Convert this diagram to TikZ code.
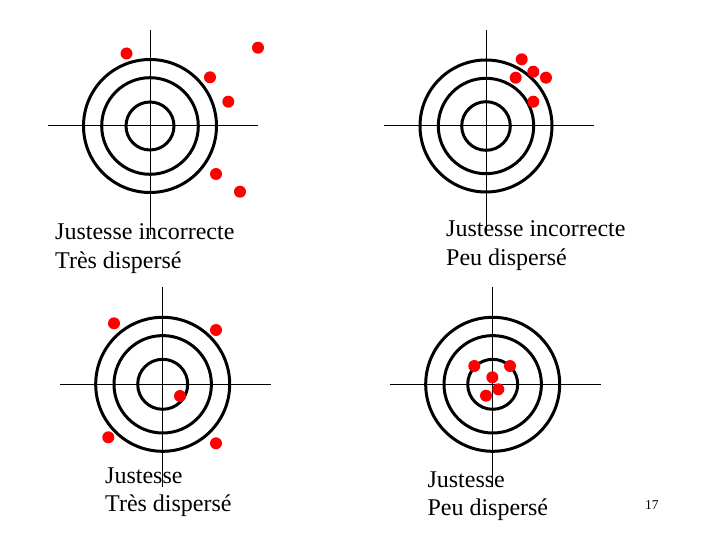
\documentclass[tikz,border=0pt]{standalone}
\usepackage{fontspec}
\setmainfont{Liberation Serif}
\begin{document}
\begin{tikzpicture}[x=1pt,y=-1pt,
  ring/.style={line width=3pt},
  axis/.style={line width=1pt},
  hit/.style={fill=red},
  lbl/.style={anchor=base west,inner sep=0pt,font=\fontsize{24}{28.8}\selectfont}]
\useasboundingbox (0,0) rectangle (720,540);
% Target 1
\draw[axis] (150,30) -- (150,235);
\draw[axis] (48,126) -- (258,126);
\foreach \r in {66.5,48.3,24} \draw[ring] (150,126) circle[radius=\r];
\foreach \p in {(126.5,53.5),(258,47.7),(210,77.3),(228.3,101.7),(216,174),(240,191.7)}
  \fill[hit] \p circle[radius=6];
\node[lbl] (t1a) at (55,240) {Justesse incorrecte};
\node[lbl] (t1b) at (55,268.5) {Très dispersé};
% Target 2
\draw[axis] (486,30) -- (486,233);
\draw[axis] (384,126) -- (594,126);
\foreach \r in {66,47.7,24.3} \draw[ring] (486,126) circle[radius=\r];
\foreach \p in {(521.7,59.3),(515.7,77.7),(533.3,71.7),(546,77.7),(533.3,101.7)}
  \fill[hit] \p circle[radius=6];
\node[lbl] (t2a) at (446,236.7) {Justesse incorrecte};
\node[lbl] (t2b) at (446,265) {Peu dispersé};
% Target 3
\draw[axis] (162.7,287) -- (162.7,486.7);
\draw[axis] (60,384.3) -- (270.7,384.3);
\foreach \r in {67,48.7,25} \draw[ring] (162.7,384.3) circle[radius=\r];
\foreach \p in {(114,323.3),(216,330),(180,396),(108.3,437.3),(216,443.3)}
  \fill[hit] \p circle[radius=6];
\node[lbl] (t3a) at (105,483.3) {Justesse};
\node[lbl] (t3b) at (105,511.7) {Très dispersé};
% Target 4
\draw[axis] (492.7,287) -- (492.7,486.7);
\draw[axis] (390,384.3) -- (600.7,384.3);
\foreach \r in {67,48.7,25} \draw[ring] (492.7,384.3) circle[radius=\r];
\foreach \p in {(474.3,366),(510,366),(492.3,377.3),(498.3,389.3),(486,395.7)}
  \fill[hit] \p circle[radius=6];
\node[lbl] (t4a) at (427.3,487.3) {Justesse};
\node[lbl] (t4b) at (427.3,515.7) {Peu dispersé};
% page number
\node[anchor=base west,inner sep=0pt,font=\fontsize{13.5}{16}\selectfont] (pg) at (645,509.3) {17};
\end{tikzpicture}
\end{document}
